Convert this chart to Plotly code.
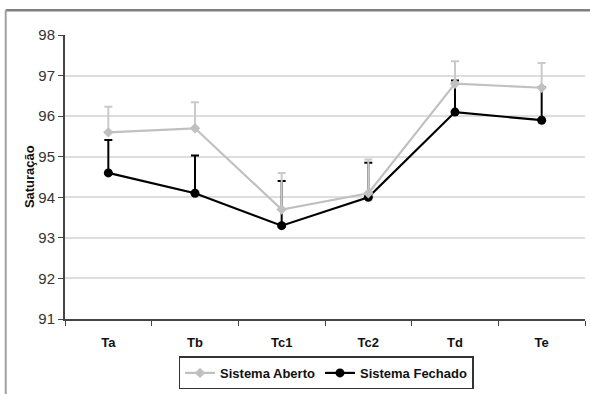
import plotly.graph_objects as go

categories = ["Ta", "Tb", "Tc1", "Tc2", "Td", "Te"]
aberto = [95.6, 95.7, 93.7, 94.1, 96.8, 96.7]
aberto_err = [0.63, 0.64, 0.9, 0.83, 0.55, 0.61]
fechado = [94.6, 94.1, 93.3, 94.0, 96.1, 95.9]
fechado_err = [0.81, 0.93, 1.1, 0.85, 0.78, 0.82]
y_ticks = [91, 92, 93, 94, 95, 96, 97, 98]

FONT = "Arial, Liberation Sans, sans-serif"

fig = go.Figure()
fig.add_trace(go.Scatter(
    x=categories, y=fechado, name="<b>Sistema Fechado</b>", mode="lines+markers",
    line=dict(color="#000000", width=2.2),
    marker=dict(symbol="circle", size=9, color="#000000"),
    error_y=dict(type="data", array=fechado_err, arrayminus=[0]*6, symmetric=False,
                 color="#000000", thickness=2, width=4),
))
fig.add_trace(go.Scatter(
    x=categories, y=aberto, name="<b>Sistema Aberto</b>", mode="lines+markers",
    line=dict(color="#c0c0c0", width=2.2),
    marker=dict(symbol="diamond", size=8, color="#c0c0c0"),
    error_y=dict(type="data", array=aberto_err, arrayminus=[0]*6, symmetric=False,
                 color="#cacaca", thickness=2, width=4),
))

fig.update_layout(
    width=590, height=394,
    margin=dict(l=65, r=5, t=35, b=71),
    paper_bgcolor="white", plot_bgcolor="white",
    font=dict(family=FONT, size=14, color="#222222"),
    showlegend=True,
    legend=dict(orientation="h", x=0.502, xanchor="center", y=-0.19, yanchor="middle",
                bordercolor="#333333", borderwidth=1.5, traceorder="reversed",
                font=dict(family=FONT, size=13, color="#111111"),
                tracegroupgap=0, itemwidth=30),
    shapes=[
        dict(type="line", xref="paper", yref="paper", x0=-0.114, x1=1.02, y0=1.087, y1=1.087,
             line=dict(color="#7f7f7f", width=2.5)),
        dict(type="line", xref="paper", yref="paper", x0=-0.114, x1=-0.114, y0=1.087, y1=-0.3,
             line=dict(color="#a0a0a0", width=2)),
    ],
    annotations=[
        dict(text="<b>Saturação</b>", xref="paper", yref="paper", x=-0.069, y=0.5,
             xanchor="center", yanchor="middle", textangle=-90, showarrow=False,
             font=dict(family=FONT, size=13, color="#111111")),
    ],
)
fig.update_xaxes(
    type="category", range=[-0.5, len(categories) - 0.5],
    tickson="boundaries", ticks="outside", ticklen=5,
    tickcolor="#444444", showline=True, linecolor="#444444", linewidth=2,
    showgrid=False, tickfont=dict(family=FONT, size=13, color="#111111"),
    ticklabelstandoff=10, automargin=False,
    ticktext=["<b>%s</b>" % c for c in categories], tickvals=categories,
)
fig.update_yaxes(
    range=[91, 98], tickvals=y_ticks, ticks="outside", ticklen=5,
    tickcolor="#444444", showline=True, linecolor="#444444", linewidth=2,
    showgrid=True, gridcolor="#dedede", gridwidth=2,
    zeroline=False, automargin=False,
    tickfont=dict(family=FONT, size=15, color="#333333"),
)

fig.write_html("out.html", config={"displayModeBar": False},
               post_script="document.body.style.margin='0';")
